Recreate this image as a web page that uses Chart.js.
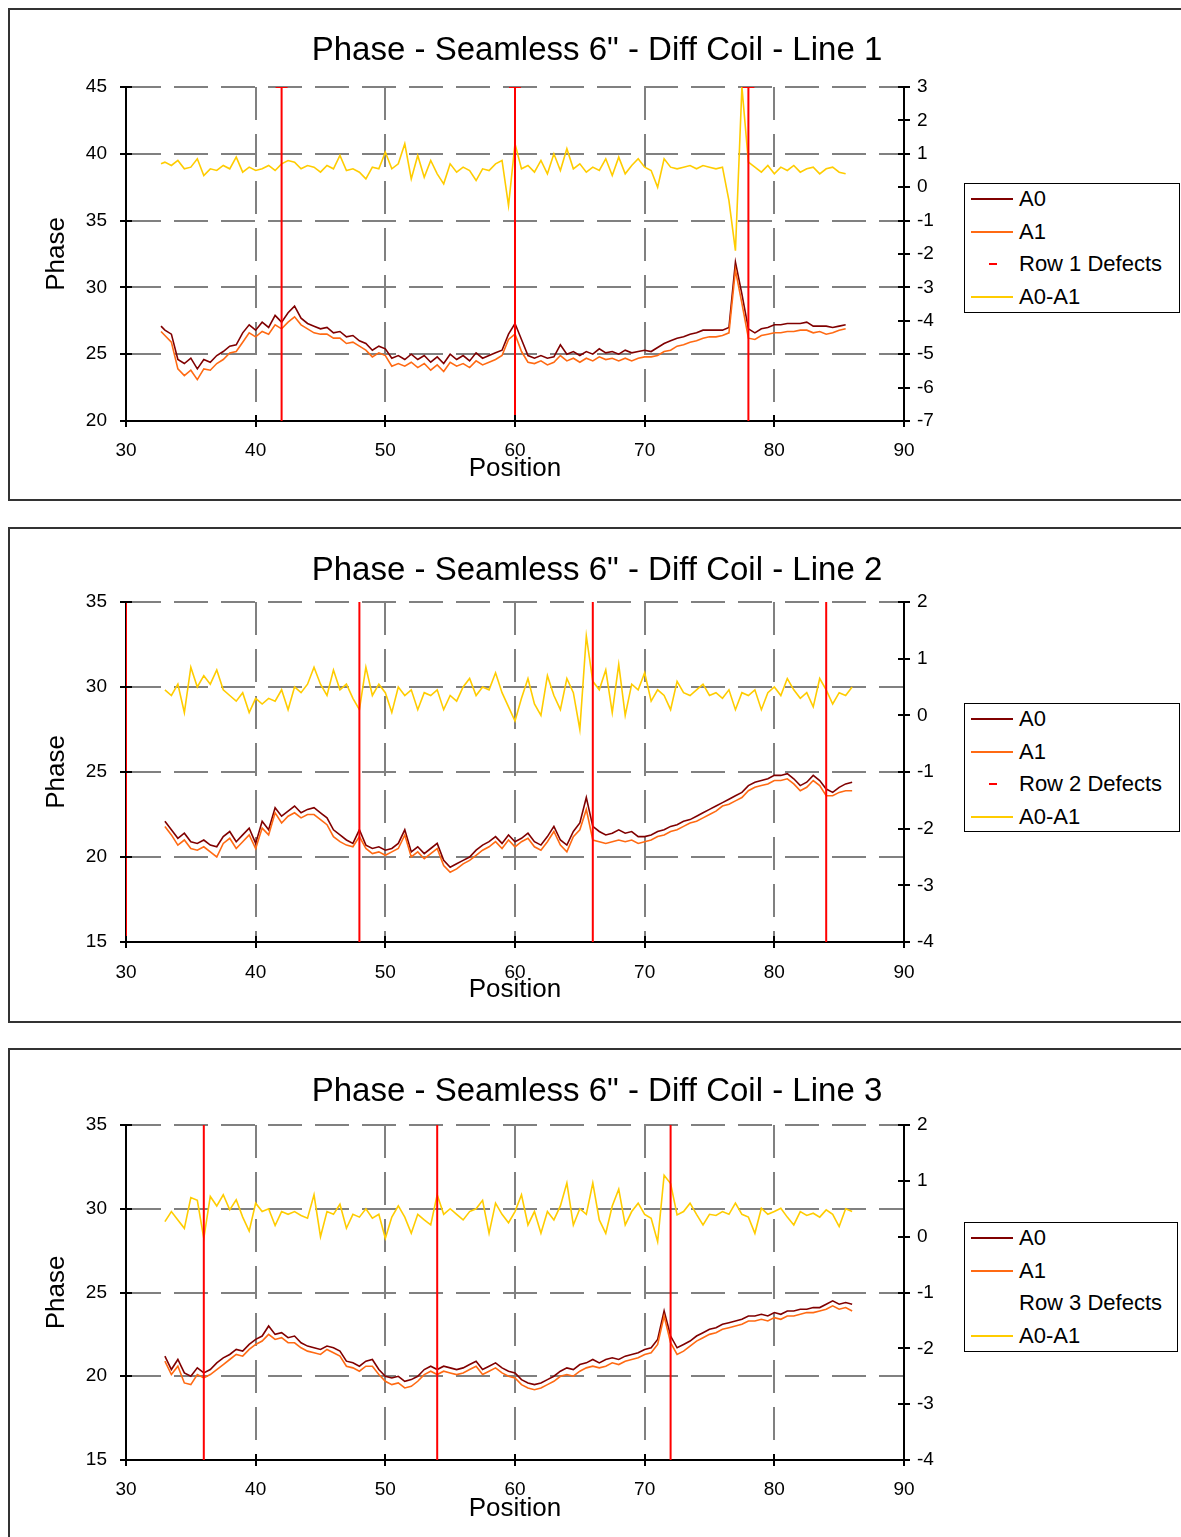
<!DOCTYPE html>
<html><head><meta charset="utf-8">
<script src="https://cdn.jsdelivr.net/npm/chart.js@4.4.1/dist/chart.umd.min.js"></script>
<style>
html,body{margin:0;padding:0;background:#fff;overflow:hidden;width:1181px;height:1537px;position:relative;}
.frame{position:absolute;border:2px solid #333;box-sizing:border-box;}
.wrap{position:absolute;left:0;}
.legend{position:absolute;border:1.5px solid #000;box-sizing:border-box;background:#fff;font-family:'Liberation Sans',Arial,sans-serif;font-size:22px;color:#000;}
.row{position:absolute;left:0;right:0;height:30px;}
.sample{position:absolute;top:14px;}
.label{position:absolute;left:54px;top:3px;white-space:nowrap;line-height:24px;}
</style></head>
<body>
<div class="frame" style="left:8px;top:8px;width:1180px;height:493px"></div>
<div class="frame" style="left:8px;top:527px;width:1180px;height:496px"></div>
<div class="frame" style="left:8px;top:1048px;width:1180px;height:500px"></div>
<script>
// ---------- data ----------
const positions1 = [32.7,33,33.5,34,34.5,35,35.5,36,36.5,37,37.5,38,38.5,39,39.5,40,40.5,41,41.5,42,42.5,43,43.5,44,44.5,45,45.5,46,46.5,47,47.5,48,48.5,49,49.5,50,50.5,51,51.5,52,52.5,53,53.5,54,54.5,55,55.5,56,56.5,57,57.5,58,58.5,59,59.5,60,60.5,61,61.5,62,62.5,63,63.5,64,64.5,65,65.5,66,66.5,67,67.5,68,68.5,69,69.5,70,70.5,71,71.5,72,72.5,73,73.5,74,74.5,75,75.5,76,76.5,77,77.5,78,78.5,79,79.5,80,80.5,81,81.5,82,82.5,83,83.5,84,84.5,85,85.5];
const positions23 = [33,33.5,34,34.5,35,35.5,36,36.5,37,37.5,38,38.5,39,39.5,40,40.5,41,41.5,42,42.5,43,43.5,44,44.5,45,45.5,46,46.5,47,47.5,48,48.5,49,49.5,50,50.5,51,51.5,52,52.5,53,53.5,54,54.5,55,55.5,56,56.5,57,57.5,58,58.5,59,59.5,60,60.5,61,61.5,62,62.5,63,63.5,64,64.5,65,65.5,66,66.5,67,67.5,68,68.5,69,69.5,70,70.5,71,71.5,72,72.5,73,73.5,74,74.5,75,75.5,76,76.5,77,77.5,78,78.5,79,79.5,80,80.5,81,81.5,82,82.5,83,83.5,84,84.5,85,85.5,86];

const line1A0 = [27.1,26.8,26.5,24.6,24.3,24.7,23.9,24.6,24.4,24.9, 25.2,25.6,25.7,26.6,27.2,26.8,27.4,27.0,27.9,27.4, 28.1,28.6,27.7,27.3,27.1,26.9,27.0,26.6,26.7,26.3, 26.4,26.0,25.8,25.3,25.6,25.4,24.7,24.9,24.6,25.0, 24.6,24.9,24.4,24.8,24.3,25.0,24.6,24.9,24.5,25.1, 24.7,24.9,25.1,25.3,26.5,27.3,26.1,24.9,24.7,24.9, 24.7,24.8,25.7,25.0,25.2,24.9,25.2,25.0,25.4,25.1, 25.2,25.0,25.3,25.1,25.2,25.3,25.2,25.5,25.8,26.0, 26.2,26.3,26.5,26.6,26.8,26.8,26.8,26.8,27.0,31.9, 29.5,26.9,26.6,26.9,27.0,27.2,27.2,27.3,27.3,27.3, 27.4,27.1,27.1,27.1,27.0,27.1,27.2];
const line1A1 = [26.7,26.4,25.9,23.9,23.4,23.8,23.1,23.9,23.8,24.3, 24.6,25.1,25.2,25.9,26.6,26.3,26.7,26.5,27.2,26.9, 27.4,27.8,27.2,26.9,26.6,26.5,26.5,26.2,26.2,25.8, 25.9,25.6,25.3,24.8,25.1,24.9,24.1,24.3,24.1,24.4, 24.0,24.3,23.8,24.2,23.7,24.4,24.1,24.3,24.0,24.5, 24.2,24.4,24.6,24.9,26.1,26.5,25.2,24.4,24.3,24.5, 24.2,24.4,24.9,24.5,24.7,24.4,24.7,24.5,24.8,24.6, 24.7,24.5,24.7,24.5,24.7,24.8,24.8,24.9,25.2,25.3, 25.6,25.7,25.9,26.0,26.2,26.3,26.3,26.4,26.6,31.3, 28.8,26.2,26.1,26.4,26.5,26.6,26.6,26.7,26.7,26.8, 26.8,26.6,26.7,26.5,26.6,26.8,26.9];
const line1Diff = [0.70,0.75,0.65,0.80,0.55,0.60,0.85,0.35,0.55,0.50, 0.65,0.55,0.90,0.45,0.60,0.50,0.55,0.65,0.50,0.70, 0.80,0.75,0.55,0.65,0.60,0.45,0.65,0.55,0.95,0.50, 0.55,0.45,0.25,0.60,0.55,1.05,0.55,0.70,1.30,0.25, 0.95,0.30,0.80,0.40,0.10,0.70,0.45,0.60,0.50,0.20, 0.55,0.50,0.70,0.80,-0.55,1.30,0.55,0.65,0.45,0.80, 0.40,1.00,0.50,1.15,0.55,0.70,0.45,0.60,0.50,0.85, 0.35,0.90,0.40,0.65,0.85,0.60,0.50,0.00,0.85,0.60, 0.55,0.60,0.65,0.55,0.65,0.60,0.55,0.60,-0.40,-1.90, 3.00,0.75,0.60,0.45,0.65,0.40,0.60,0.50,0.65,0.45, 0.55,0.60,0.40,0.55,0.60,0.45,0.40];
const line1Defects = [42, 60, 78];

const line2A0 = [22.1,21.6,21.1,21.4,20.9,20.8,21.0,20.7,20.6,21.2, 21.5,20.9,21.3,21.7,20.8,22.1,21.6,22.9,22.4,22.7, 23.0,22.6,22.8,22.9,22.6,22.3,21.6,21.3,21.0,20.8, 21.6,20.7,20.5,20.6,20.4,20.5,20.8,21.6,20.3,20.6, 20.2,20.5,20.8,19.8,19.4,19.6,19.8,20.0,20.4,20.7, 20.9,21.2,20.8,21.3,20.9,21.1,21.4,20.9,20.7,21.2, 21.8,21.0,20.7,21.5,22.0,23.5,21.8,21.5,21.3,21.4, 21.6,21.4,21.5,21.2,21.2,21.3,21.5,21.6,21.8,21.9, 22.1,22.2,22.4,22.6,22.8,23.0,23.2,23.4,23.6,23.8, 24.2,24.4,24.5,24.6,24.8,24.8,24.9,24.6,24.2,24.4, 24.8,24.5,24.0,23.8,24.1,24.3,24.4];
const line2A1 = [21.8,21.3,20.7,21.0,20.5,20.4,20.6,20.3,20.0,20.8, 21.1,20.5,20.9,21.3,20.5,21.7,21.3,22.6,22.0,22.4, 22.6,22.3,22.5,22.5,22.2,21.9,21.2,20.9,20.7,20.6, 21.2,20.5,20.2,20.3,20.1,20.3,20.5,21.3,20.0,20.3, 19.9,20.2,20.5,19.5,19.1,19.3,19.6,19.8,20.1,20.4, 20.6,20.9,20.5,21.0,20.6,20.9,21.1,20.6,20.4,20.9, 21.5,20.7,20.3,21.2,21.6,22.8,21.0,20.9,20.8,20.9, 21.0,20.9,21.0,20.8,20.9,21.0,21.2,21.3,21.5,21.6, 21.8,22.0,22.1,22.3,22.5,22.7,23.0,23.1,23.3,23.5, 23.9,24.1,24.2,24.3,24.5,24.5,24.6,24.3,23.9,24.1, 24.5,24.2,23.6,23.6,23.8,23.9,23.9];
const line2Diff = [0.45,0.35,0.55,0.05,0.85,0.50,0.70,0.55,0.80,0.45, 0.35,0.25,0.40,0.05,0.30,0.20,0.30,0.25,0.45,0.10, 0.50,0.40,0.55,0.85,0.55,0.35,0.80,0.45,0.55,0.30, 0.10,0.85,0.35,0.55,0.40,0.05,0.50,0.35,0.45,0.10, 0.40,0.35,0.45,0.10,0.35,0.25,0.50,0.65,0.35,0.50, 0.45,0.75,0.40,0.15,-0.10,0.30,0.65,0.20,0.00,0.70, 0.35,0.10,0.65,0.40,-0.25,1.40,0.60,0.45,0.80,0.05, 0.90,0.00,0.55,0.45,0.75,0.25,0.45,0.35,0.10,0.60, 0.40,0.35,0.45,0.55,0.35,0.40,0.30,0.45,0.10,0.40, 0.35,0.45,0.10,0.40,0.50,0.35,0.65,0.45,0.30,0.40, 0.15,0.65,0.45,0.20,0.40,0.35,0.50];
const line2Defects = [30, 48, 66, 84];

const line3A0 = [21.2,20.4,21.0,20.2,20.0,20.5,20.2,20.4,20.8,21.1, 21.3,21.6,21.5,21.9,22.2,22.4,23.0,22.5,22.6,22.3, 22.4,22.0,21.8,21.7,21.6,21.8,21.7,21.5,20.9,20.8, 20.6,20.9,21.0,20.4,20.0,19.9,20.0,19.7,19.8,20.0, 20.4,20.6,20.4,20.6,20.5,20.4,20.5,20.7,20.9,20.4, 20.6,20.8,20.5,20.3,20.2,19.8,19.6,19.5,19.6,19.8, 20.0,20.3,20.5,20.4,20.7,20.8,21.0,20.8,21.0,21.1, 21.0,21.2,21.3,21.4,21.6,21.7,22.2,23.9,22.4,21.7, 21.9,22.1,22.4,22.6,22.8,22.9,23.1,23.2,23.3,23.4, 23.6,23.6,23.7,23.6,23.8,23.7,23.9,23.9,24.0,24.0, 24.1,24.1,24.3,24.5,24.3,24.4,24.3];
const line3A1 = [20.9,20.1,20.6,19.6,19.5,20.1,19.9,20.1,20.4,20.7, 21.0,21.3,21.2,21.6,21.9,22.1,22.5,22.2,22.3,22.0, 22.0,21.7,21.5,21.4,21.3,21.6,21.4,21.2,20.6,20.5, 20.3,20.6,20.6,20.1,19.7,19.5,19.6,19.3,19.4,19.7, 20.1,20.3,20.1,20.3,20.2,20.1,20.2,20.4,20.6,20.1, 20.3,20.5,20.2,20.0,19.9,19.5,19.3,19.2,19.3,19.5, 19.7,20.0,20.1,20.0,20.3,20.5,20.6,20.5,20.6,20.8, 20.7,20.9,21.0,21.1,21.3,21.4,21.9,23.6,22.0,21.3, 21.5,21.8,22.1,22.3,22.5,22.6,22.8,22.9,23.0,23.1, 23.3,23.3,23.4,23.3,23.5,23.4,23.6,23.6,23.7,23.8, 23.8,23.9,24.0,24.2,24.0,24.1,23.9];
const line3Diff = [0.27,0.45,0.30,0.15,0.70,0.65,-0.03,0.72,0.55,0.75, 0.48,0.66,0.35,0.10,0.60,0.45,0.50,0.20,0.45,0.40, 0.45,0.38,0.33,0.75,0.00,0.45,0.40,0.58,0.15,0.40, 0.35,0.50,0.33,0.40,-0.03,0.35,0.55,0.35,0.06,0.40, 0.30,0.21,0.75,0.40,0.50,0.40,0.30,0.45,0.50,0.65, 0.06,0.60,0.40,0.25,0.45,0.75,0.21,0.45,0.06,0.45, 0.30,0.55,0.96,0.21,0.50,0.40,0.96,0.30,0.06,0.55, 0.85,0.21,0.45,0.60,0.40,0.33,-0.09,1.10,0.95,0.39, 0.45,0.60,0.40,0.21,0.40,0.38,0.45,0.40,0.60,0.40, 0.35,0.06,0.51,0.40,0.45,0.51,0.35,0.21,0.45,0.38, 0.42,0.35,0.48,0.40,0.18,0.50,0.45];
const line3Defects = [36, 54, 72];

const xRange = [30, 90];
const leftRange1 = [20, 45], rightRange1 = [-7, 3];
const leftRange23 = [15, 35], rightRange23 = [-4, 2];

// ---------- drawing ----------
const FONT = "'Liberation Sans', Arial, sans-serif";
const CANVAS_W = 1194, PLOT_LEFT = 126, PLOT_RIGHT = 904;
const GRID = '#808080';
const TITLE_SIZE = 33;

const crossTicks = {
  id: 'crossTicks',
  afterDatasetsDraw(chart) {
    const ctx = chart.ctx;
    ctx.save();
    ctx.strokeStyle = '#000';
    ctx.lineWidth = 2;
    ['x', 'y', 'y2'].forEach(id => {
      const s = chart.scales[id];
      s.ticks.forEach(t => {
        const p = Math.round(s.getPixelForValue(t.value));
        ctx.beginPath();
        if (id === 'x') { ctx.moveTo(p, s.top - 6); ctx.lineTo(p, s.top + 6); }
        else if (id === 'y') { ctx.moveTo(s.right - 6, p); ctx.lineTo(s.right + 6, p); }
        else { ctx.moveTo(s.left - 6, p); ctx.lineTo(s.left + 6, p); }
        ctx.stroke();
      });
    });
    ctx.restore();
  }
};

function makeChart(c) {
  const wrap = document.createElement('div');
  wrap.className = 'wrap';
  wrap.style.top = c.top + 'px';
  wrap.style.width = CANVAS_W + 'px';
  wrap.style.height = c.height + 'px';
  const cv = document.createElement('canvas');
  cv.width = CANVAS_W; cv.height = c.height;
  cv.style.width = CANVAS_W + 'px'; cv.style.height = c.height + 'px';
  wrap.appendChild(cv);
  document.body.appendChild(wrap);

  const pts = arr => c.positions.map((p, i) => ({x: p, y: arr[i]}));
  const defectPts = [];
  c.defects.forEach(d => {
    defectPts.push({x: d, y: c.left[0]}, {x: d, y: c.left[1]}, {x: d, y: null});
  });

  const datasets = [
    {label: 'A0', data: pts(c.a0), borderColor: '#800000', borderWidth: 1.6, pointRadius: 0, yAxisID: 'y', order: 3},
    {label: 'A1', data: pts(c.a1), borderColor: '#ff6a13', borderWidth: 1.6, pointRadius: 0, yAxisID: 'y', order: 2},
    {label: c.defectLabel, data: defectPts, borderColor: '#ff0000', borderWidth: 2, yAxisID: 'y', order: 0,
      spanGaps: false, pointStyle: 'line', pointBorderColor: '#ff0000', pointBorderWidth: 2,
      pointRadius: ctx => (c.plotMarker && ctx.raw && ctx.raw.y === c.left[1]) ? 6 : 0, isDefect: true},
    {label: 'A0-A1', data: pts(c.diff), borderColor: '#ffcc00', borderWidth: 1.6, pointRadius: 0, yAxisID: 'y2', order: 1}
  ];

  const tc = c.titleCenter, half = TITLE_SIZE * 0.6;
  new Chart(cv, {
    type: 'line',
    data: {datasets},
    options: {
      responsive: false, animation: false, devicePixelRatio: 1,
      layout: {padding: 0},
      elements: {line: {tension: 0}},
      plugins: {
        legend: {display: false}, tooltip: {enabled: false},
        title: {display: true, text: c.title, color: '#000',
          font: {family: FONT, size: TITLE_SIZE, weight: 'normal', lineHeight: 1.2},
          padding: {top: tc - half, bottom: c.plotTop - tc - half}}
      },
      scales: {
        x: {type: 'linear', min: xRange[0], max: xRange[1],
          ticks: {stepSize: 10, color: '#000', font: {family: FONT, size: 19}, padding: c.xLabelPad, maxRotation: 0, autoSkip: false},
          grid: {color: g => (g.tick && (g.tick.value === xRange[0] || g.tick.value === xRange[1])) ? 'rgba(0,0,0,0)' : GRID, lineWidth: 2, drawTicks: false},
          border: {display: true, color: '#000', width: 2, dash: [33, 14]},
          title: {display: true, text: 'Position', color: '#000', font: {family: FONT, size: 26, lineHeight: 1.2}, padding: {top: 0, bottom: c.posPad}},
          afterFit: s => { s.height = c.height - c.plotBottom; }
        },
        y: {position: 'left', min: c.left[0], max: c.left[1],
          ticks: {stepSize: 5, color: '#000', font: {family: FONT, size: 19}, padding: 19},
          grid: {color: g => (g.tick && g.tick.value === c.left[0]) ? 'rgba(0,0,0,0)' : GRID, lineWidth: 2, drawTicks: false},
          border: {display: true, color: '#000', width: 2, dash: [34, 13]},
          title: {display: true, text: 'Phase', color: '#000', font: {family: FONT, size: 26, lineHeight: 1.2}, padding: {top: 41.4, bottom: 0}},
          afterFit: s => { s.width = PLOT_LEFT; }
        },
        y2: {position: 'right', min: c.right[0], max: c.right[1],
          ticks: {stepSize: 1, color: '#000', font: {family: FONT, size: 19}, padding: 13},
          grid: {drawOnChartArea: false, drawTicks: false},
          border: {display: true, color: '#000', width: 2},
          afterFit: s => { s.width = CANVAS_W - PLOT_RIGHT; }
        }
      }
    },
    plugins: [crossTicks]
  });

  // legend built from the datasets
  const lg = document.createElement('div');
  lg.className = 'legend';
  lg.style.left = c.legend[0] + 'px'; lg.style.top = c.legend[1] + 'px';
  lg.style.width = c.legend[2] + 'px'; lg.style.height = c.legend[3] + 'px';
  datasets.forEach((ds, i) => {
    const row = document.createElement('div');
    row.className = 'row';
    row.style.top = (i * 32.5) + 'px';
    const sm = document.createElement('div');
    sm.className = 'sample';
    if (ds.isDefect) {
      if (c.legendMarker) { sm.style.left = '24px'; sm.style.width = '8px'; sm.style.height = '2px'; sm.style.background = ds.borderColor; }
    } else {
      sm.style.left = '6px'; sm.style.width = '42px'; sm.style.height = '2px'; sm.style.background = ds.borderColor;
    }
    row.appendChild(sm);
    const lb = document.createElement('div');
    lb.className = 'label';
    lb.textContent = ds.label;
    row.appendChild(lb);
    lg.appendChild(row);
  });
  document.body.appendChild(lg);
}

makeChart({top: 0, height: 500, title: 'Phase - Seamless 6" - Diff Coil - Line 1', titleCenter: 50.5, plotTop: 87, plotBottom: 421,
  xLabelPad: 18, posPad: 15.4, positions: positions1, a0: line1A0, a1: line1A1, diff: line1Diff, defects: line1Defects,
  defectLabel: 'Row 1 Defects', plotMarker: true, legendMarker: true, left: leftRange1, right: rightRange1, legend: [964, 183, 216, 130]});
makeChart({top: 520, height: 500, title: 'Phase - Seamless 6" - Diff Coil - Line 2', titleCenter: 50.5, plotTop: 82, plotBottom: 422,
  xLabelPad: 19, posPad: 14.4, positions: positions23, a0: line2A0, a1: line2A1, diff: line2Diff, defects: line2Defects,
  defectLabel: 'Row 2 Defects', plotMarker: false, legendMarker: true, left: leftRange23, right: rightRange23, legend: [964, 703, 216, 129]});
makeChart({top: 1040, height: 497, title: 'Phase - Seamless 6" - Diff Coil - Line 3', titleCenter: 51.5, plotTop: 85, plotBottom: 420,
  xLabelPad: 18, posPad: 12.4, positions: positions23, a0: line3A0, a1: line3A1, diff: line3Diff, defects: line3Defects,
  defectLabel: 'Row 3 Defects', plotMarker: false, legendMarker: false, left: leftRange23, right: rightRange23, legend: [964, 1222, 214, 130]});
</script>
</body></html>
